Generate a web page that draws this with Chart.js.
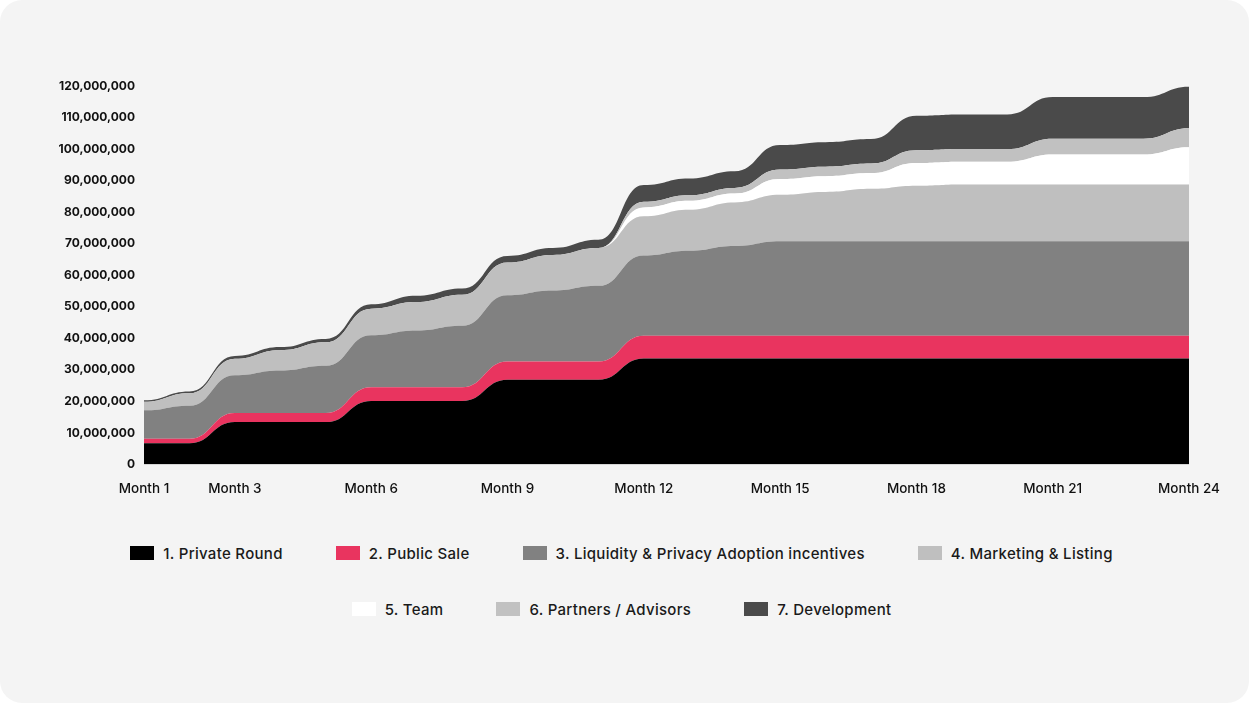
<!DOCTYPE html>
<html>
<head>
<meta charset="utf-8">
<script src="https://cdn.jsdelivr.net/npm/chart.js@4.4.0/dist/chart.umd.min.js"></script>
<style>
  html, body { margin: 0; padding: 0; background: #ffffff; }
  #panel {
    position: relative; width: 1249px; height: 703px;
    background: #f4f4f4; border-radius: 22px; overflow: hidden;
  }
  #chartBox { position: absolute; left: 0; top: 0; width: 1249px; height: 505px; }
  #legend { position: absolute; left: 0; top: 538px; width: 1243px; font-family: Inter, "Open Sans", sans-serif; }
  .legend-row { display: flex; justify-content: center; align-items: center; height: 30px; margin-bottom: 26px; }
  .legend-item { display: flex; align-items: center; margin: 0 26.5px; font-size: 15px; font-weight: 500; letter-spacing: 0.3px; color: #1a1a1a; white-space: nowrap; }
  .legend-swatch { width: 24px; height: 14px; margin-right: 9px; }
</style>
</head>
<body>
<div id="panel">
  <div id="chartBox"><canvas id="vestingChart"></canvas></div>
  <div id="legend"></div>
</div>
<script>
// --- Data (values in millions of tokens) ---
const months = ['Month 1', 'Month 2', 'Month 3', 'Month 4', 'Month 5', 'Month 6', 'Month 7', 'Month 8',
  'Month 9', 'Month 10', 'Month 11', 'Month 12', 'Month 13', 'Month 14', 'Month 15', 'Month 16',
  'Month 17', 'Month 18', 'Month 19', 'Month 20', 'Month 21', 'Month 22', 'Month 23', 'Month 24'];
const shownMonths = ['Month 1', 'Month 3', 'Month 6', 'Month 9', 'Month 12', 'Month 15', 'Month 18', 'Month 21', 'Month 24'];

const privateRound = [6.72, 6.72, 13.44, 13.44, 13.44, 20.16, 20.16, 20.16, 26.88, 26.88, 26.88, 33.6,
  33.6, 33.6, 33.6, 33.6, 33.6, 33.6, 33.6, 33.6, 33.6, 33.6, 33.6, 33.6];
const publicSale = [1.44, 1.44, 2.88, 2.88, 2.88, 4.32, 4.32, 4.32, 5.76, 5.76, 5.76, 7.2,
  7.2, 7.2, 7.2, 7.2, 7.2, 7.2, 7.2, 7.2, 7.2, 7.2, 7.2, 7.2];
const liquidity = [9, 10.5, 12, 13.5, 15, 16.5, 18, 19.5, 21, 22.5, 24, 25.5,
  27, 28.5, 30, 30, 30, 30, 30, 30, 30, 30, 30, 30];
const marketing = [2.7, 3.9, 5.2, 6.4, 7.4, 8.4, 9.0, 9.8, 10.4, 11.3, 12.0, 12.4,
  13.0, 13.8, 14.7, 15.6, 16.6, 17.6, 18, 18, 18, 18, 18, 18];
const team = [0, 0, 0, 0, 0, 0, 0, 0, 0, 0, 0, 2.8,
  2.8, 2.8, 5.0, 5.0, 5.0, 7.2, 7.2, 7.2, 9.5, 9.5, 9.5, 11.8];
const partners = [0, 0, 0, 0, 0, 0, 0, 0, 0, 0, 0, 1.8,
  1.8, 1.8, 3.0, 3.0, 3.0, 4.0, 4.0, 4.0, 5.0, 5.0, 5.0, 6.0];
const development = [0.5, 0.6, 0.9, 1.0, 1.1, 1.4, 2.0, 2.0, 2.1, 2.2, 2.6, 5.3,
  5.3, 5.3, 7.8, 7.8, 7.8, 11.0, 11.0, 11.0, 13.2, 13.2, 13.2, 13.2];

const seriesNames = ['1. Private Round', '2. Public Sale', '3. Liquidity & Privacy Adoption incentives',
  '4. Marketing & Listing', '5. Team', '6. Partners / Advisors', '7. Development'];
const seriesColors = ['#000000', '#e9345f', '#818181', '#bfbfbf', '#ffffff', '#c1c1c1', '#4a4a4a'];
const legendRows = [[0, 1, 2, 3], [4, 5, 6]];

// every point gets a flat tangent, so each month step is a small S-curve
const bumpCurve = {
  id: 'bumpCurve',
  beforeDraw(chart) {
    chart.getSortedVisibleDatasetMetas().forEach(meta => {
      meta.dataset.updateControlPoints(chart.chartArea, 'x');
      const pts = meta.data;
      pts.forEach((p, i) => {
        const prev = pts[i - 1], next = pts[i + 1];
        p.cp1x = prev ? (prev.x + p.x) / 2 : p.x;
        p.cp1y = p.y;
        p.cp2x = next ? (p.x + next.x) / 2 : p.x;
        p.cp2y = p.y;
      });
    });
  }
};

document.addEventListener('DOMContentLoaded', () => {
  const canvas = document.getElementById('vestingChart');
  const allSeries = [privateRound, publicSale, liquidity, marketing, team, partners, development];

  const datasets = allSeries.map((values, i) => ({
    label: seriesNames[i],
    data: values,
    backgroundColor: seriesColors[i],
    borderColor: seriesColors[i],
    borderWidth: 0,
    pointRadius: 0,
    fill: i === 0 ? 'origin' : '-1',
    cubicInterpolationMode: 'monotone'
  }));

  const chart = new Chart(canvas.getContext('2d'), {
    type: 'line',
    data: { labels: months, datasets: datasets },
    plugins: [bumpCurve],
    options: {
      maintainAspectRatio: false,
      animation: false,
      layout: { padding: { top: 86, right: 60, left: 0, bottom: 0 } },
      scales: {
        x: {
          grid: { display: false, drawTicks: false },
          border: { display: false },
          afterFit: s => { s.height = 40.5; },
          ticks: {
            autoSkip: false, maxRotation: 0, padding: 16,
            color: '#111111',
            font: { family: 'Inter', size: 13.5, weight: '500' },
            callback: (v, i) => shownMonths.includes(months[i]) ? months[i] : ''
          }
        },
        y: {
          stacked: true, min: 0, max: 120,
          grid: { display: false, drawTicks: false },
          border: { display: false },
          afterFit: s => { s.width = 144; },
          ticks: {
            stepSize: 10, padding: 9,
            color: '#111111',
            font: { family: 'Inter', size: 12, weight: '700' },
            callback: v => (v * 1e6).toLocaleString('en-US')
          }
        }
      },
      plugins: {
        legend: { display: false },
        tooltip: { enabled: false }
      }
    }
  });

  // --- HTML legend built from the chart's datasets ---
  const legend = document.getElementById('legend');
  legendRows.forEach(row => {
    const rowDiv = document.createElement('div');
    rowDiv.className = 'legend-row';
    row.forEach(idx => {
      const ds = chart.data.datasets[idx];
      const item = document.createElement('div');
      item.className = 'legend-item';
      const sw = document.createElement('span');
      sw.className = 'legend-swatch';
      sw.style.background = ds.backgroundColor;
      const txt = document.createElement('span');
      txt.textContent = ds.label;
      item.appendChild(sw);
      item.appendChild(txt);
      rowDiv.appendChild(item);
    });
    legend.appendChild(rowDiv);
  });
});
</script>
</body>
</html>
